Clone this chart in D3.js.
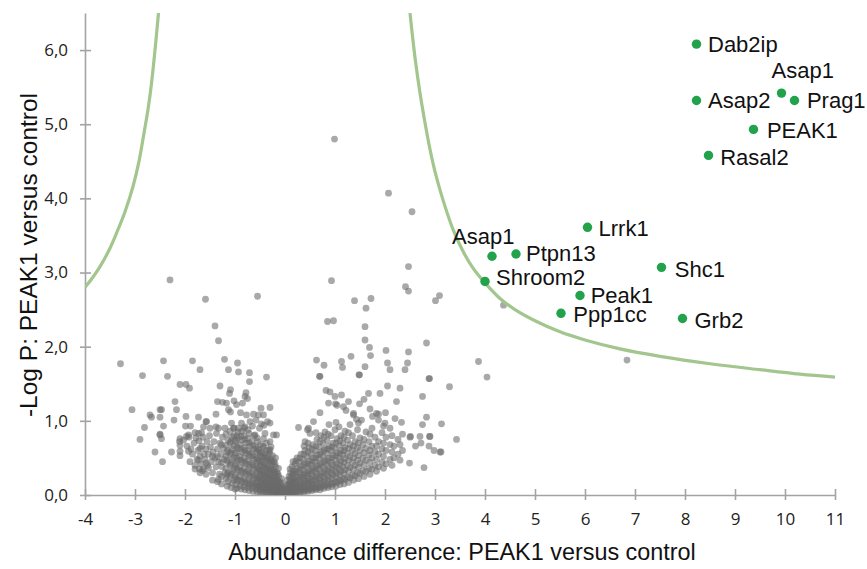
<!DOCTYPE html>
<html><head><meta charset="utf-8">
<script src="https://cdn.jsdelivr.net/npm/d3@7"></script>
<style>body{margin:0;background:#fff}</style>
</head><body><svg id="c" width="867" height="569"></svg>
<script>
// ---------- DATA ----------
const xTickValues = [-4,-3,-2,-1,0,1,2,3,4,5,6,7,8,9,10,11];
const yTickValues = [0,1,2,3,4,5,6];
const xTitle = "Abundance difference: PEAK1 versus control";
const yTitle = "-Log P: PEAK1 versus control";

const hitNames = ["Dab2ip","Asap1","Prag1","Asap2","PEAK1","Rasal2","Lrrk1","Asap1","Ptpn13","Shroom2","Shc1","Peak1","Ppp1cc","Grb2"];
const hitX =     [8.23, 9.93, 10.19, 8.23, 9.37, 8.47, 6.05, 4.14, 4.62, 4.00, 7.53, 5.90, 5.52, 7.95];
const hitY =     [6.08, 5.42, 5.32, 5.32, 4.93, 4.58, 3.61, 3.22, 3.25, 2.88, 3.07, 2.69, 2.45, 2.38];

// threshold curves
const curveLeft  = [[-4,2.8],[-3.85,2.93],[-3.7,3.08],[-3.52,3.3],[-3.37,3.53],[-3.2,3.82],[-3.04,4.16],[-2.92,4.5],[-2.82,4.88],[-2.74,5.2],[-2.67,5.55],[-2.6,6.0],[-2.53,6.5]];
const curveRight = [[2.5,6.5],[2.6,5.9],[2.7,5.42],[2.8,5.02],[2.9,4.66],[3.0,4.36],[3.15,4.0],[3.35,3.6],[3.55,3.3],[3.75,3.07],[4.0,2.86],[4.3,2.65],[4.6,2.5],[5.0,2.35],[5.5,2.2],[6.0,2.09],[6.7,1.97],[7.5,1.87],[8.5,1.77],[9.5,1.69],[10.3,1.63],[11,1.59]];

// sparse background proteins
const grayPoints = [
[-2.3,2.9],[-1.59,2.64],[-0.55,2.68],[-1.4,2.28],[-1.33,2.08],[-3.29,1.77],[-2.43,1.81],[-1.85,1.81],[-1.21,1.83],[-0.95,1.78],
[-2.85,1.61],[-2.35,1.6],[-1.7,1.69],[-1.13,1.69],[-0.93,1.66],[-0.71,1.65],[-0.37,1.59],[-2.1,1.49],[-1.98,1.49],[-1.91,1.44],
[-1.3,1.47],[-0.71,1.53],[-1.09,1.42],[-1.11,1.37],[-0.78,1.38],[-0.8,1.33],[-0.75,1.3],[-2.2,1.26],[-1.35,1.26],[-1.25,1.25],
[-1.17,1.24],[-1.02,1.27],[-0.97,1.22],[-0.85,1.24],[-0.3,1.18],[-0.48,1.17],[-3.06,1.15],[-2.47,1.15],[-2.17,1.15],[-1.13,1.15],
[-1.09,1.12],[-0.89,1.11],[-1.38,1.09],[-0.77,1.08],[-0.63,1.09],[-0.53,1.08],[-0.43,1.08],[-2.7,1.08],[-2.67,1.05],[-2.5,1.05],
[-1.98,1.06],[-1.73,1.05],[-2.22,1.01],[-1.58,0.99],[-1.07,0.97],[-0.87,0.97],[-0.7,0.99],[-0.58,1.01],[-0.47,0.96],[-0.35,0.99],
[-2.43,0.93],[-2.81,0.91],[-1.99,0.93],[-1.89,0.93],[-1.63,0.92],[-1.5,0.9],[-1.33,0.9],[-1.2,0.9],[-1.03,0.9],[-0.93,0.9],
[-0.82,0.9],[-0.65,0.93],[-0.51,0.9],[-0.42,0.94],[-0.3,0.97],[-2.9,0.75],[-2.5,0.81],[-2.47,0.76],[-2.1,0.76],[-1.93,0.81],
[-1.73,0.83],[-1.67,0.84],[-0.6,0.81],[-0.4,0.83],[-0.23,0.81],[-0.17,0.81],[-2.6,0.58],[-2.27,0.58],[-2.1,0.67],[-2.1,0.53],
[-1.93,0.59],[-2.45,0.45],[-1.73,0.47],[-1.33,0.21],[-2.11,0.72],[-2.03,0.74],[-0.3,0.72],[-0.3,0.61],[-1.8,0.35],[-1.71,0.35],
[-1.63,0.35],[-1.53,0.37],[-2.5,1.15],[-2.5,0.82],[-1.97,0.79],[-1.8,0.84],[-1.57,0.99],[-1.38,0.92],[-2.1,0.59],
[0.99,4.8],[2.07,4.07],[2.54,3.82],[2.47,3.08],[0.93,2.89],[2.41,2.81],[2.47,2.75],[3.09,2.69],[3.01,2.62],[1.39,2.62],
[1.72,2.65],[1.62,2.52],[4.37,2.56],[0.85,2.34],[0.97,2.35],[1.6,2.27],[1.6,2.09],[1.69,1.99],[1.71,1.88],[2.02,1.95],
[2.47,1.93],[2.83,2.05],[3.87,1.8],[4.04,1.59],[6.84,1.82],[0.63,1.82],[0.78,1.75],[1.13,1.8],[1.15,1.72],[1.32,1.87],
[1.6,1.73],[2.05,1.78],[2.1,1.69],[2.45,1.78],[2.4,1.69],[0.69,1.6],[1.49,1.62],[2.89,1.57],[3.29,1.46],[0.82,1.41],
[0.9,1.39],[1.13,1.35],[1.0,1.33],[1.27,1.26],[1.49,1.23],[1.58,1.29],[1.67,1.37],[1.9,1.37],[2.05,1.47],[2.3,1.44],
[2.23,1.26],[2.75,1.33],[1.04,1.21],[1.17,1.19],[0.7,1.11],[1.7,1.16],[1.87,1.09],[2.01,1.11],[2.2,1.03],[2.33,0.98],
[2.83,1.05],[3.13,0.96],[0.27,0.91],[0.47,0.9],[0.57,0.99],[2.75,0.95],[2.51,0.79],[2.7,0.79],[2.89,0.79],[2.61,0.66],
[2.72,0.7],[2.98,0.6],[3.1,0.58],[3.43,0.75],[2.49,0.43],[2.78,0.37],[1.22,1.14],[1.37,1.1],[1.83,1.1],[1.37,1.08],
[1.43,1.02],[1.53,1.01],[1.75,1.06],[1.87,1.01],[2.0,0.97],[0.45,0.88],[0.5,0.83],[0.4,0.72],[0.87,1.24],[1.01,1.23],
[0.7,1.6],[1.48,1.62],[2.88,1.57],[2.88,0.66],[2.5,0.78],[2.9,0.79],[3.12,0.58]
];

// dense cloud, read column by column: [x, [y values]]
const denseColumns = [
[-1.96,[0.66]],[-1.92,[0.78]],[-1.9,[0.45]],[-1.88,[0.62]],[-1.85,[0.55]],[-1.82,[0.7]],[-1.8,[0.4]],[-1.78,[0.77]],
[-1.76,[0.48]],[-1.74,[0.6]],[-1.72,[0.73]],[-1.7,[0.52,0.3,0.63]],[-1.68,[0.42]],[-1.66,[0.66]],[-1.65,[0.33]],[-1.64,[0.78]],
[-1.62,[0.55]],[-1.6,[0.48]],[-1.58,[0.62,0.28,0.43]],[-1.56,[0.72]],[-1.55,[0.4]],[-1.53,[0.55]],[-1.51,[0.8]],[-1.49,[0.65]],
[-1.47,[0.45]],[-1.45,[0.3,0.2,0.52]],[-1.44,[0.58]],[-1.42,[0.72]],[-1.4,[0.5]],[-1.38,[0.38]],[-1.37,[0.83]],[-1.35,[0.62,0.18,0.52]],
[-1.33,[0.45]],[-1.31,[0.28]],[-1.3,[0.7]],[-1.28,[0.55]],[-1.27,[0.15,0.25,0.44,0.68]],[-1.26,[0.38]],[-1.25,[0.78]],[-1.23,[0.63]],[-1.22,[0.48]],[-1.2,[0.3]],
[-1.18,[0.22,0.36,0.52,0.67,0.82]],
[-1.16,[0.12,0.27,0.47,0.58]],
[-1.14,[0.18,0.3,0.44,0.6,0.74]],
[-1.1,[0.25,0.4,0.55,0.7,0.86]],
[-1.08,[0.1,0.28,0.42,0.57,0.72]],
[-1.06,[0.16,0.32,0.48,0.62,0.78]],
[-1.02,[0.2,0.35,0.5,0.66,0.8,0.9]],
[-1.0,[0.08,0.24,0.4,0.56,0.74]],
[-0.98,[0.14,0.27,0.42,0.57,0.72]],
[-0.96,[0.09,0.21,0.36,0.5,0.65,0.8]],
[-0.94,[0.19,0.33,0.47,0.63,0.77,0.85]],
[-0.9,[0.12,0.25,0.38,0.52,0.68]],
[-0.88,[0.08,0.2,0.33,0.47,0.62,0.79]],
[-0.86,[0.17,0.3,0.44,0.58,0.74,0.86]],
[-0.82,[0.11,0.22,0.36,0.5,0.64,0.8]],
[-0.8,[0.07,0.18,0.31,0.45,0.6,0.75,0.92]],
[-0.78,[0.15,0.28,0.42,0.56,0.7]],
[-0.74,[0.1,0.2,0.33,0.47,0.6,0.76,0.88]],
[-0.72,[0.06,0.16,0.29,0.41,0.55,0.7,0.83]],
[-0.7,[0.13,0.25,0.38,0.52,0.66]],
[-0.66,[0.09,0.18,0.3,0.43,0.57,0.72]],
[-0.64,[0.05,0.15,0.26,0.4,0.53,0.67]],
[-0.62,[0.12,0.22,0.35,0.48,0.62,0.8]],
[-0.58,[0.08,0.16,0.27,0.39,0.51,0.65]],
[-0.56,[0.04,0.13,0.23,0.36,0.49,0.62,0.77]],
[-0.55,[0.11,0.2,0.31,0.44,0.58,0.72]],
[-0.52,[0.07,0.14,0.24,0.35,0.47,0.6]],
[-0.5,[0.04,0.12,0.21,0.32,0.44,0.57]],
[-0.49,[0.1,0.18,0.28,0.4,0.53,0.68]],
[-0.46,[0.06,0.13,0.22,0.33,0.45,0.57]],
[-0.44,[0.03,0.1,0.19,0.29,0.4,0.52,0.66]],
[-0.43,[0.09,0.16,0.26,0.37,0.5,0.64,0.76]],
[-0.4,[0.05,0.12,0.2,0.3,0.42,0.55]],
[-0.38,[0.03,0.09,0.17,0.27,0.38,0.5]],
[-0.37,[0.08,0.15,0.24,0.35,0.47,0.6,0.7]],
[-0.34,[0.05,0.11,0.19,0.28,0.39,0.52]],
[-0.32,[0.02,0.08,0.16,0.25,0.35,0.47,0.6]],
[-0.31,[0.07,0.14,0.22,0.32,0.44,0.56]],
[-0.28,[0.04,0.1,0.17,0.26,0.36,0.48,0.65]],
[-0.26,[0.02,0.08,0.15,0.23,0.34,0.45]],
[-0.25,[0.06,0.12,0.2,0.3,0.41,0.53]],
[-0.22,[0.03,0.08,0.15,0.23,0.33,0.45]],
[-0.2,[0.01,0.07,0.12,0.2,0.3,0.42]],
[-0.19,[0.05,0.1,0.17,0.27,0.38,0.5]],
[-0.16,[0.02,0.07,0.13,0.21,0.3]],
[-0.14,[0.01,0.05,0.11,0.19,0.28]],
[-0.13,[0.04,0.09,0.16,0.25,0.36]],
[-0.1,[0.02,0.06,0.11,0.18]],
[-0.08,[0.01,0.04,0.09,0.16]],
[-0.07,[0.03,0.07,0.13,0.22]],
[-0.04,[0.01,0.05,0.1]],
[-0.02,[0.02,0.06]],
[0.02,[0.01,0.04,0.09]],
[0.03,[0.02,0.07,0.14]],
[0.05,[0.02,0.06,0.12,0.2]],
[0.08,[0.03,0.08,0.15,0.25]],
[0.1,[0.01,0.07,0.14,0.22,0.35]],
[0.11,[0.02,0.05,0.11,0.19,0.3]],
[0.14,[0.04,0.09,0.16,0.26,0.38]],
[0.16,[0.02,0.1,0.19,0.29,0.45]],
[0.17,[0.03,0.07,0.13,0.22,0.33]],
[0.2,[0.05,0.1,0.18,0.28,0.42]],
[0.22,[0.02,0.11,0.2,0.32,0.46]],
[0.24,[0.04,0.08,0.15,0.24,0.36,0.5]],
[0.28,[0.06,0.12,0.2,0.3,0.44]],
[0.3,[0.03,0.09,0.15,0.24,0.35,0.5]],
[0.32,[0.05,0.1,0.17,0.27,0.39,0.55]],
[0.36,[0.07,0.14,0.23,0.34,0.48]],
[0.38,[0.04,0.1,0.18,0.27,0.4,0.55,0.66]],
[0.4,[0.06,0.12,0.2,0.3,0.43,0.6]],
[0.44,[0.08,0.16,0.26,0.38,0.52]],
[0.46,[0.05,0.11,0.19,0.29,0.42,0.58,0.7]],
[0.48,[0.07,0.14,0.22,0.33,0.46,0.64]],
[0.52,[0.09,0.18,0.29,0.41,0.55]],
[0.54,[0.06,0.13,0.21,0.33,0.46,0.62]],
[0.56,[0.08,0.15,0.25,0.37,0.5,0.68]],
[0.6,[0.1,0.2,0.32,0.45,0.6]],
[0.62,[0.07,0.14,0.24,0.36,0.5,0.66,0.84]],
[0.64,[0.09,0.17,0.28,0.4,0.54,0.75]],
[0.68,[0.11,0.22,0.35,0.49,0.65]],
[0.7,[0.07,0.16,0.26,0.4,0.55,0.72]],
[0.72,[0.1,0.19,0.3,0.43,0.58,0.8]],
[0.76,[0.13,0.25,0.38,0.52,0.7]],
[0.78,[0.09,0.18,0.3,0.44,0.6,0.78]],
[0.8,[0.12,0.22,0.34,0.47,0.62,0.85]],
[0.84,[0.15,0.28,0.41,0.56,0.74]],
[0.86,[0.1,0.2,0.32,0.46,0.62,0.82]],
[0.88,[0.13,0.24,0.37,0.5,0.66,0.95]],
[0.92,[0.16,0.3,0.44,0.6,0.8]],
[0.94,[0.11,0.22,0.35,0.5,0.65]],
[0.96,[0.15,0.27,0.4,0.54,0.7]],
[1.0,[0.18,0.32,0.47,0.63,0.88]],
[1.02,[0.12,0.24,0.38,0.53,0.7,0.98]],
[1.04,[0.17,0.29,0.42,0.57,0.76]],
[1.08,[0.2,0.35,0.5,0.67,0.92]],
[1.1,[0.14,0.27,0.41,0.56,0.73]],
[1.12,[0.19,0.32,0.46,0.6,0.8]],
[1.16,[0.22,0.38,0.54,0.7]],
[1.18,[0.15,0.29,0.44,0.6,0.78]],
[1.2,[0.21,0.34,0.49,0.64,0.86]],
[1.25,[0.24,0.4,0.56,0.74]],
[1.27,[0.17,0.32,0.47,0.63,0.84]],
[1.3,[0.23,0.37,0.52,0.68,0.95]],
[1.35,[0.27,0.44,0.6,0.8]],
[1.37,[0.2,0.35,0.5,0.66]],
[1.4,[0.26,0.4,0.56,0.72]],
[1.45,[0.3,0.47,0.64,0.88]],
[1.47,[0.22,0.38,0.53,0.7,0.97]],
[1.5,[0.29,0.43,0.6,0.77]],
[1.56,[0.33,0.5,0.68]],
[1.58,[0.25,0.41,0.57,0.75]],
[1.62,[0.32,0.47,0.63,0.85]],
[1.68,[0.36,0.54,0.72]],
[1.7,[0.28,0.44,0.6,0.82]],
[1.74,[0.35,0.5,0.66,0.9]],
[1.8,[0.4,0.58,0.78]],
[1.83,[0.32,0.48,0.66]],
[1.87,[0.38,0.55,0.72]],
[1.94,[0.44,0.62,0.84]],
[1.97,[0.36,0.52,0.7,0.93]],
[2.02,[0.42,0.6,0.78]],
[2.1,[0.48,0.68,0.9]],
[2.14,[0.4,0.58,0.8]],
[2.18,[0.5,0.66]],
[2.26,[0.55,0.75]],
[2.3,[0.47,0.68]],
[2.35,[0.6,0.82]]
];

// label offsets in pixels (style, not data)
const labelDx = [11.5,-10,12.4,11.6,13.4,11.7,11,-40,10,11,13.3,10.7,12.3,12];
const labelDy = [7.7,-14.7,7.3,7.3,9,10,8.7,-12.7,7.4,3.5,9.4,7.3,8.4,9];

// ---------- CHART ----------
const svg = d3.select("#c");
const x = d3.scaleLinear().domain([-4, 11]).range([85, 835]);
const y = d3.scaleLinear().domain([0, 6.5]).range([495, 13]);

svg.append("defs").append("clipPath").attr("id","plot")
  .append("rect").attr("x",85).attr("y",13).attr("width",750).attr("height",482);

const axisColor = "#a3a3a3";
const xAxis = svg.append("g").attr("transform","translate(0,495)")
  .call(d3.axisBottom(x).tickValues(xTickValues).tickSizeInner(5).tickSizeOuter(0).tickPadding(13).tickFormat(d => String(d)));
xAxis.selectAll(".tick line").attr("y1",-6);
const yAxis = svg.append("g").attr("transform","translate(85,0)")
  .call(d3.axisLeft(y).tickValues(yTickValues).tickSizeInner(5).tickSizeOuter(0).tickPadding(12)
        .tickFormat(d => d3.format(".1f")(d).replace(".", ",")));
yAxis.selectAll(".tick line").attr("x1",6);
[xAxis, yAxis].forEach(g => {
  g.select(".domain").attr("stroke", axisColor).attr("stroke-width", 1.6);
  g.selectAll(".tick line").attr("stroke", axisColor).attr("stroke-width", 1.6);
  g.selectAll(".tick text").attr("fill","#222").style("font-family","'Open Sans', sans-serif").style("font-size","17px");
});

// gray cloud
const densePoints = denseColumns.flatMap(([cx, ys]) => ys.map(v => [cx, v]));
const allGray = grayPoints.concat(densePoints);
svg.append("g").attr("clip-path","url(#plot)")
  .selectAll("circle").data(allGray).join("circle")
  .attr("cx", d => x(d[0])).attr("cy", d => y(d[1])).attr("r", 3.4)
  .attr("fill", "#6a6a6a").attr("fill-opacity", 0.58);

// threshold curves
const line = d3.line().x(d => x(d[0])).y(d => y(d[1])).curve(d3.curveCatmullRom.alpha(0.5));
const cg = svg.append("g").attr("clip-path","url(#plot)");
[curveLeft, curveRight].forEach(c => cg.append("path").attr("d", line(c))
  .attr("fill","none").attr("stroke","#a2c68d").attr("stroke-width",3.2));

// hits
const hits = hitNames.map((n,i) => ({name:n, x:hitX[i], y:hitY[i], dx:labelDx[i], dy:labelDy[i]}));
svg.append("g").selectAll("circle").data(hits).join("circle")
  .attr("cx", d => x(d.x)).attr("cy", d => y(d.y)).attr("r", 4.7).attr("fill", "#22a24b");
svg.append("g").selectAll("text").data(hits).join("text")
  .attr("x", d => x(d.x) + d.dx).attr("y", d => y(d.y) + d.dy)
  .text(d => d.name)
  .attr("fill","#111").style("font-family","'Liberation Sans', Arial, sans-serif").style("font-size","22px");

// titles
svg.append("text").attr("x", 462).attr("y", 560).attr("text-anchor","middle")
  .text(xTitle).attr("fill","#111").style("font-family","'Liberation Sans', Arial, sans-serif").style("font-size","23.4px");
svg.append("text").attr("transform","translate(37,255) rotate(-90)").attr("text-anchor","middle")
  .text(yTitle).attr("fill","#111").style("font-family","'Liberation Sans', Arial, sans-serif").style("font-size","24.5px");
</script>
</body></html>
